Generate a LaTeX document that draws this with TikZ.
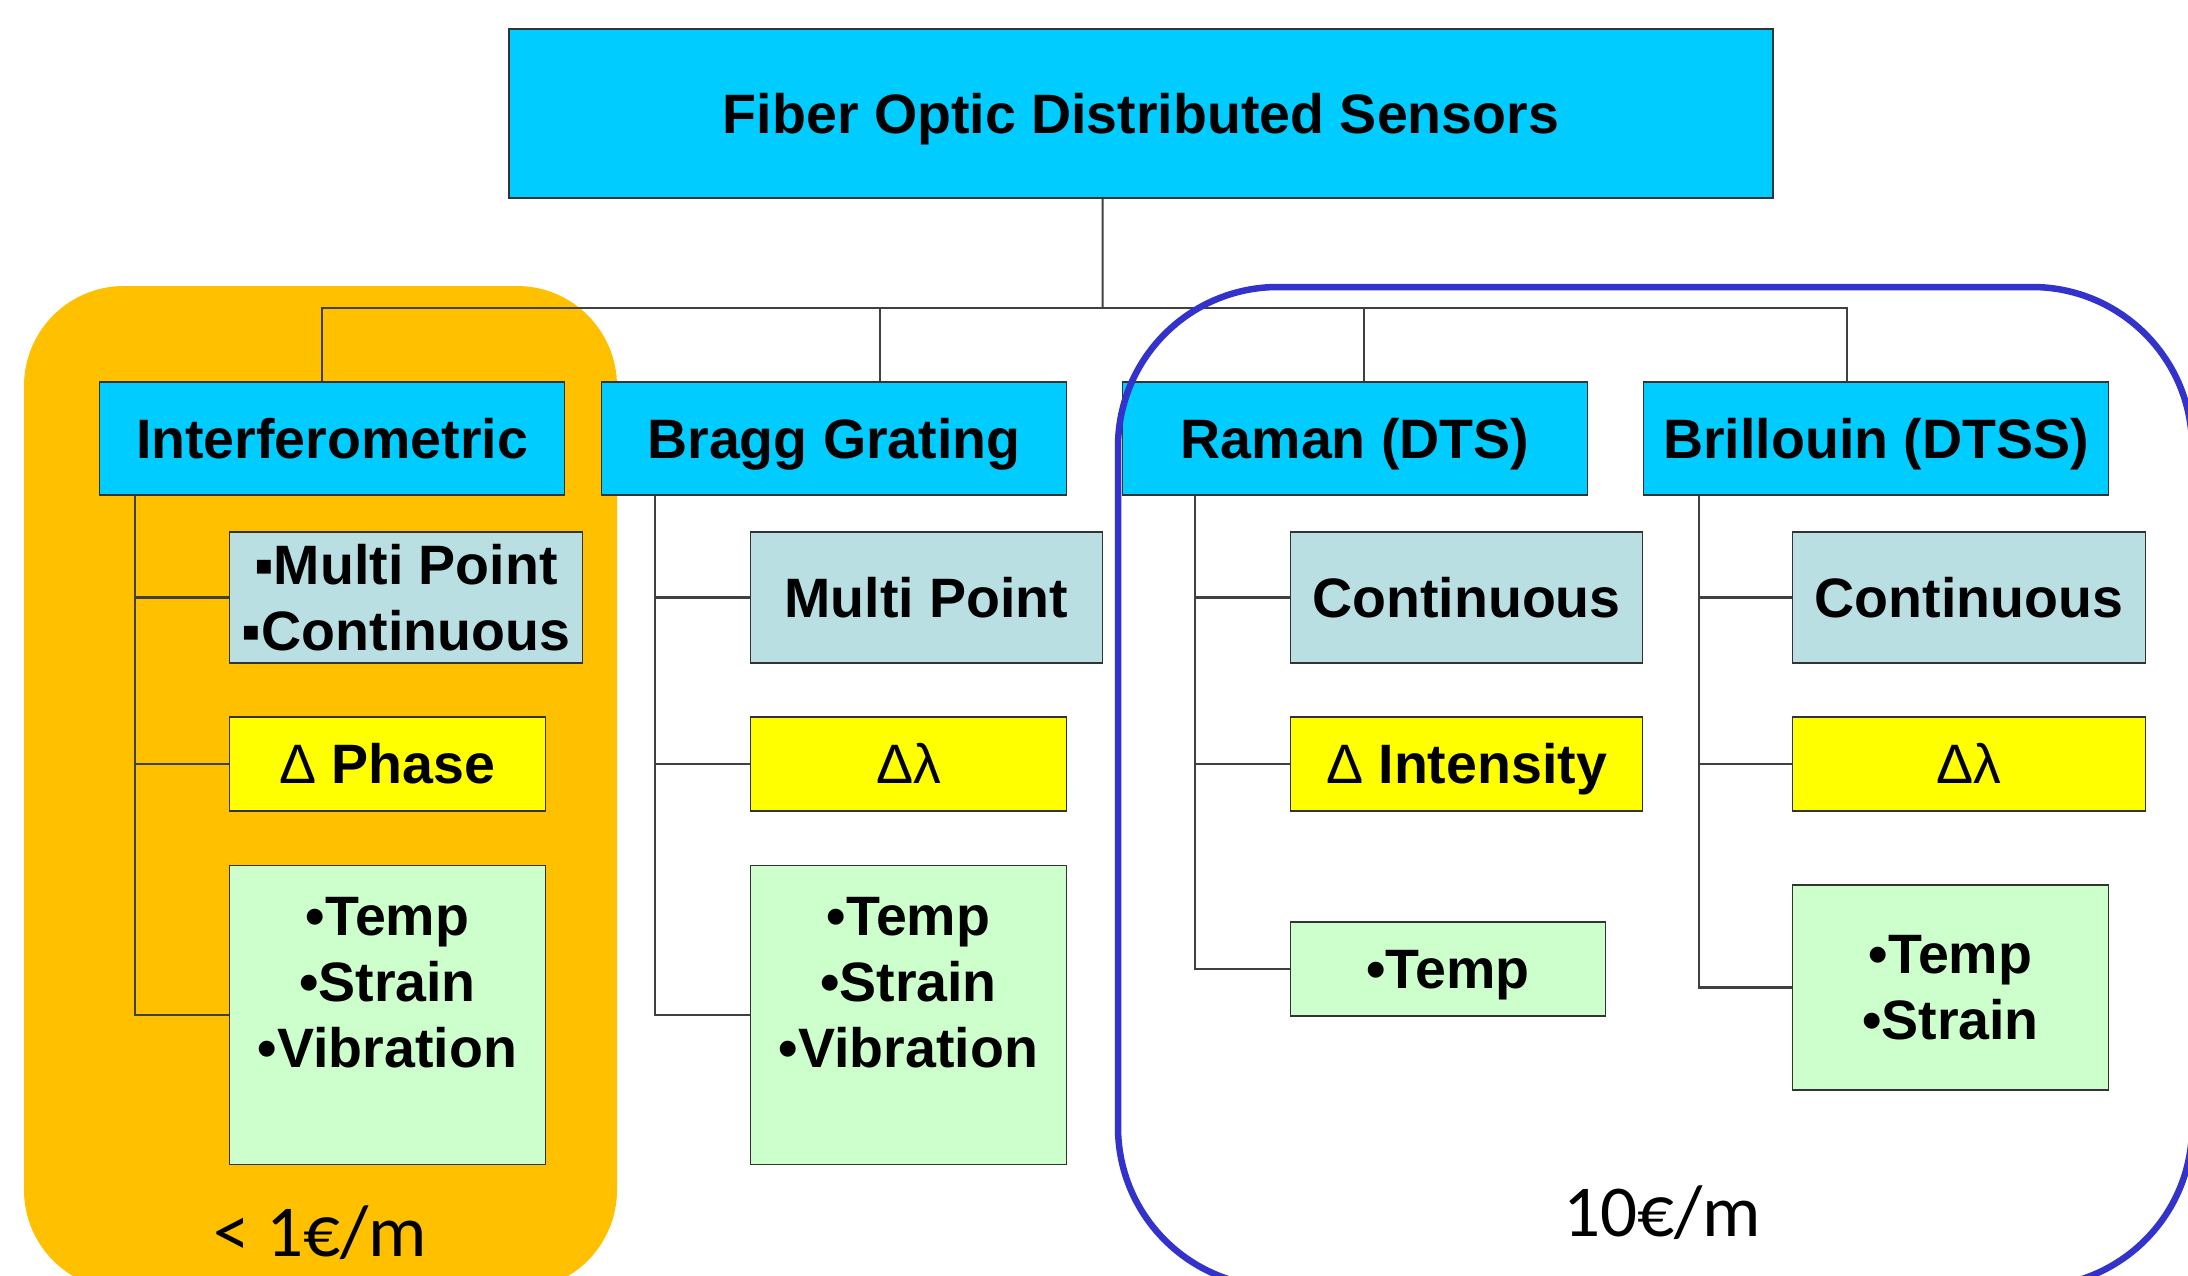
\documentclass[tikz,border=0pt]{standalone}
\usepackage{fontspec}
\setmainfont{Liberation Sans}
\newfontfamily\pricefont{Carlito}
\definecolor{pCyan}{RGB}{0,204,255}
\definecolor{pTeal}{RGB}{185,223,227}
\definecolor{pYellow}{RGB}{255,255,0}
\definecolor{pGreen}{RGB}{204,255,204}
\definecolor{pOrange}{RGB}{255,192,0}
\definecolor{pBlue}{RGB}{51,51,204}
\definecolor{pLine}{gray}{0.25}
\tikzset{
    box/.style={draw=black!80, line width=0.5pt, inner sep=0pt, align=center,
                font=\bfseries\fontsize{15.8}{18.8}\selectfont},
    oneline/.style={text height=11.3pt, text depth=0pt},
    head/.style={box, oneline, fill=pCyan, minimum width=46.5mm, minimum height=11.3mm},
    kind/.style={box, fill=pTeal, minimum height=13.1mm},
    meas/.style={box, oneline, fill=pYellow, minimum height=9.4mm},
    qty/.style={box, fill=pGreen},
    link/.style={draw=pLine, line width=0.6pt},
    price/.style={font=\pricefont\fontsize{20.8}{25}\selectfont, inner sep=0pt}
}

\begin{document}
\begin{tikzpicture}[x=1mm,y=-1mm]
\useasboundingbox (0,0) rectangle (218.8,127.6);
\begin{scope}
\clip (0,0) rectangle (218.8,127.6);
\fill[pOrange, rounded corners=10mm] (2.4,28.6) rectangle (61.7,129);
\end{scope}

\node[box, oneline, fill=pCyan, minimum width=126.4mm, minimum height=16.9mm] (top) at (114.1,11.35) {Fiber Optic Distributed Sensors};
\node[head] (interf) at ( 33.2,43.85) {Interferometric};
\node[head] (bragg)  at ( 83.4,43.85) {Bragg Grating};
\node[head] (raman)  at (135.5,43.85) {Raman (DTS)};
\node[head] (brill)  at (187.6,43.85) {Brillouin (DTSS)};

\node[kind, minimum width=35.3mm] (interf-a) at ( 40.6,59.75) {▪Multi Point\\▪Continuous};
\node[kind, oneline, minimum width=35.2mm] (bragg-a)  at ( 92.65,59.75) {Multi Point};
\node[kind, oneline, minimum width=35.2mm] (raman-a)  at (146.65,59.75) {Continuous};
\node[kind, oneline, minimum width=35.3mm] (brill-a)  at (196.9,59.75) {Continuous};

\node[meas, minimum width=31.6mm] (interf-b) at ( 38.75,76.4) {{\mdseries Δ} Phase};
\node[meas, minimum width=31.6mm] (bragg-b)  at ( 90.85,76.4) {{\mdseries Δλ}};
\node[meas, minimum width=35.2mm] (raman-b)  at (146.65,76.4) {{\mdseries Δ} Intensity};
\node[meas, minimum width=35.3mm] (brill-b)  at (196.9,76.4) {{\mdseries Δλ}};

\node[qty, minimum width=31.6mm, minimum height=29.9mm] (interf-c) at ( 38.75,101.5) {•Temp\\•Strain\\•Vibration\\\mbox{}};
\node[qty, minimum width=31.6mm, minimum height=29.9mm] (bragg-c)  at ( 90.85,101.5) {•Temp\\•Strain\\•Vibration\\\mbox{}};
\node[qty, oneline, minimum width=31.5mm, minimum height=9.4mm] (raman-c) at (144.8,96.9) {•Temp};
\node[qty, minimum width=31.6mm, minimum height=20.5mm] (brill-c)  at (195.05,98.75) {•Temp\\•Strain};

\coordinate (bus) at (110.26,30.84);
\draw[link] ([xshift=-3.84mm]top.south) -- (bus);
\draw[link] ([xshift=-1mm]interf.north) |- (bus) -| ([xshift=-2.9mm]brill.north);
\draw[link] ([xshift=4.64mm]bragg.north) |- (bus);
\draw[link] ([xshift=0.88mm]raman.north) |- (bus);

\foreach \p/\dx in {interf/3.65, bragg/5.47, raman/7.35, brill/5.6}
  \foreach \c in {a,b,c}
    \draw[link] ([xshift=\dx mm]\p.south west) |- (\p-\c.west);

\node[price, anchor=base] (cheap)  at ( 32.0,125.6) {< 1€/m};
\node[price, anchor=base] (costly) at (166.2,123.6) {10€/m};

\begin{scope}
\clip (0,0) rectangle (218.8,127.6);
\draw[pBlue, line width=0.65mm, rounded corners=16mm] (111.8,28.7) rectangle (219.2,128.7);
\end{scope}
\end{tikzpicture}
\end{document}
